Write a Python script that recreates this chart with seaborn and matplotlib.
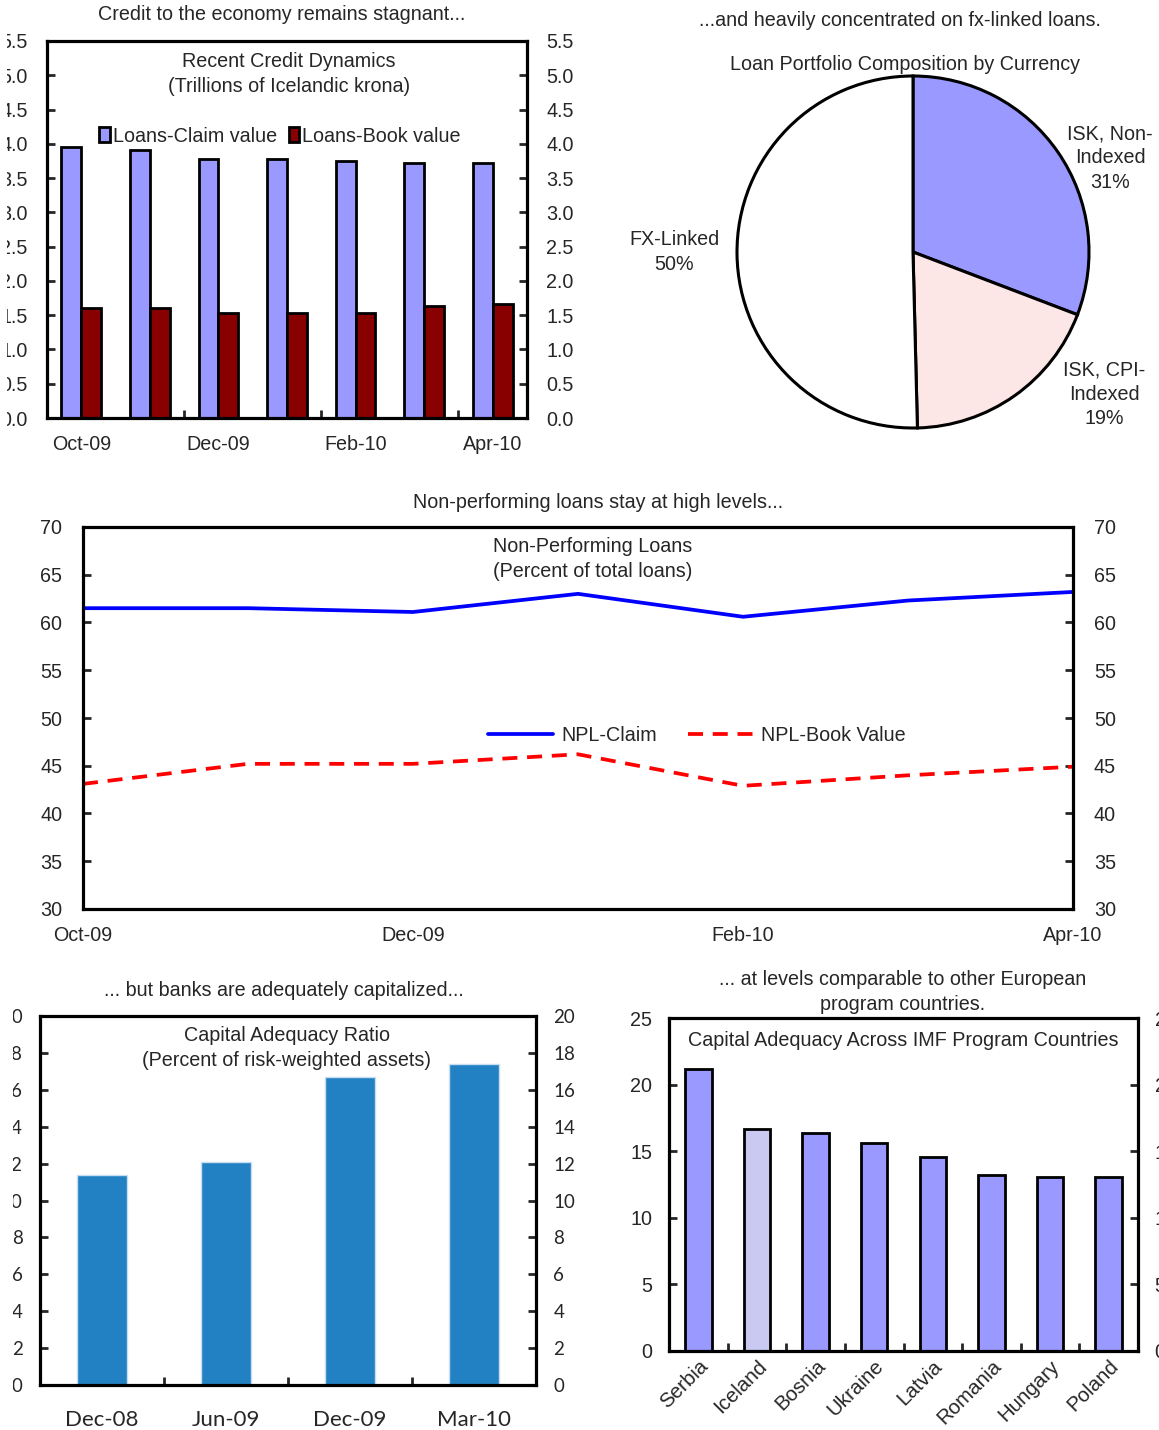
import numpy as np
import pandas as pd
import matplotlib
matplotlib.use('Agg')
import matplotlib.pyplot as plt
import seaborn as sns
from matplotlib.transforms import Bbox, TransformedBbox
from matplotlib.ticker import FormatStrFormatter

W, H = 1159, 1430

# --- data ---
credit_months = ['Oct-09', 'Nov-09', 'Dec-09', 'Jan-10', 'Feb-10', 'Mar-10', 'Apr-10']
loans_claim = [3.95, 3.91, 3.78, 3.78, 3.75, 3.72, 3.72]
loans_book = [1.61, 1.61, 1.53, 1.53, 1.53, 1.64, 1.67]
credit_ticks = ['Oct-09', 'Dec-09', 'Feb-10', 'Apr-10']

pie_names = ['ISK, Non-\nIndexed\n31%', 'ISK, CPI-\nIndexed\n19%', 'FX-Linked\n50%']
pie_shares = [30.8, 18.8, 50.4]

npl_months = ['Oct-09', 'Nov-09', 'Dec-09', 'Jan-10', 'Feb-10', 'Mar-10', 'Apr-10']
npl_claim = [61.5, 61.5, 61.1, 63.0, 60.6, 62.3, 63.2]
npl_book = [43.1, 45.2, 45.2, 46.2, 42.9, 44.0, 44.9]
npl_ticks = ['Oct-09', 'Dec-09', 'Feb-10', 'Apr-10']

car_dates = ['Dec-08', 'Jun-09', 'Dec-09', 'Mar-10']
car_values = [11.4, 12.1, 16.7, 17.4]

countries = ['Serbia', 'Iceland', 'Bosnia', 'Ukraine', 'Latvia', 'Romania', 'Hungary', 'Poland']
country_car = [21.2, 16.7, 16.4, 15.6, 14.6, 13.2, 13.1, 13.1]

CLAIM = '#9999FF'
BOOK = '#880000'
FS = 14.2
LS = 1.35

sns.set_style('white')
plt.rcParams['font.family'] = ['Liberation Sans', 'DejaVu Sans']


def add_ax(fig, l, t, r, b):
    return fig.add_axes([l / W, 1 - b / H, (r - l) / W, (b - t) / H])


def frame(ax, lw=2.3):
    for s in ax.spines.values():
        s.set_visible(True)
        s.set_linewidth(lw)
        s.set_color('black')


def ftext(fig, x, y, s, **kw):
    fig.text(x / W, 1 - y / H, s, ha='center', va='center', fontsize=FS, **kw)


def clip_left_labels(fig, ax, xpx):
    # the reference picture is cropped on its left edge
    box = TransformedBbox(Bbox.from_extents(xpx / W, 0, 1, 1), fig.transFigure)
    for t in ax.yaxis.get_major_ticks():
        t.label1.set_clip_on(True)
        t.label1.set_clip_box(box)


fig = plt.figure(figsize=(W / 100, H / 100), dpi=100)

# ---------- panel 1: credit dynamics ----------
ax1 = add_ax(fig, 47, 41, 527, 418)
df1 = pd.DataFrame({
    'month': credit_months * 2,
    'series': ['Loans-Claim value'] * len(credit_months) + ['Loans-Book value'] * len(credit_months),
    'value': loans_claim + loans_book,
})
sns.barplot(data=df1, x='month', y='value', hue='series',
            palette={'Loans-Claim value': CLAIM, 'Loans-Book value': BOOK},
            width=0.58, edgecolor='black', linewidth=2, saturation=1, ax=ax1)
ax1.set_xlim(-0.5, len(credit_months) - 0.5)
ax1.set_ylim(0, 5.5)
ax1.set_yticks(np.arange(0, 5.51, 0.5))
ax1.yaxis.set_major_formatter(FormatStrFormatter('%.1f'))
ax1.set_xticks([0, 2, 4, 6], credit_ticks)
ax1.set_xticks([1.5, 3.5, 5.5], minor=True)
ax1.tick_params(axis='x', which='major', length=0, pad=12, labelsize=FS)
ax1.tick_params(axis='x', which='minor', direction='in', length=6, width=2, bottom=True)
ax1.tick_params(axis='y', direction='in', left=True, right=True, labelleft=True,
                labelright=True, length=6, width=2, pad=14, labelsize=FS)
ax1.set_xlabel('')
ax1.set_ylabel('')
frame(ax1)
clip_left_labels(fig, ax1, 7)
h, l = ax1.get_legend_handles_labels()
ax1.legend(h, l, loc='center', bbox_to_anchor=(0.485, 0.748), ncol=2, frameon=False,
           fontsize=FS, handlelength=0.55, handleheight=0.75, handletextpad=0.15,
           columnspacing=0.6)
ftext(fig, 282, 15, 'Credit to the economy remains stagnant...')
ftext(fig, 289, 74, 'Recent Credit Dynamics\n(Trillions of Icelandic krona)', linespacing=LS)

# ---------- panel 2: pie ----------
R = 176
ax2 = fig.add_axes([(913 - 1.4 * R) / W, 1 - (252 + 1.4 * R) / H, 2.8 * R / W, 2.8 * R / H])
ax2.pie(pie_shares, colors=[CLAIM, '#FDE6E6', 'white'], startangle=90, counterclock=False,
        wedgeprops=dict(edgecolor='black', linewidth=2.2))
ax2.set_xlim(-1.4, 1.4)
ax2.set_ylim(-1.4, 1.4)
ax2.set_aspect('equal')
ax2.axis('off')
ax2.patch.set_visible(False)
for name, (px, py) in zip(pie_names, [(1.12, 0.535), (1.085, -0.81), (-1.355, 0.0)]):
    ax2.text(px, py, name, ha='center', va='center', fontsize=FS, linespacing=LS)
ftext(fig, 900, 21, '...and heavily concentrated on fx-linked loans.')
ftext(fig, 905, 64, 'Loan Portfolio Composition by Currency')

# ---------- panel 3: NPL ----------
ax3 = add_ax(fig, 83, 527, 1073, 909)
npl_x = np.arange(len(npl_months))
sns.lineplot(x=npl_x, y=npl_claim, color='#0000FF', linewidth=2.7, label='NPL-Claim', ax=ax3)
sns.lineplot(x=npl_x, y=npl_book, color='#FF0000', linewidth=2.7, linestyle=(0, (4, 2.6)),
             label='NPL-Book Value', ax=ax3)
ax3.set_xlim(0, len(npl_months) - 1)
ax3.set_ylim(30, 70)
ax3.set_yticks(np.arange(30, 71, 5))
ax3.set_xticks([0, 2, 4, 6], npl_ticks)
ax3.tick_params(axis='x', direction='in', length=6, width=2, pad=12, labelsize=FS)
ax3.tick_params(axis='y', direction='in', left=True, right=True, labelleft=True,
                labelright=True, length=6, width=2, pad=15, labelsize=FS)
frame(ax3)
ax3.legend(loc='center', bbox_to_anchor=(0.62, 0.455), ncol=2, frameon=False, fontsize=FS,
           handlelength=3.3, handletextpad=0.4, columnspacing=1.6)
ftext(fig, 598, 503, 'Non-performing loans stay at high levels...')
ftext(fig, 593, 559, 'Non-Performing Loans\n(Percent of total loans)', linespacing=LS)

# ---------- panel 4: capital adequacy ratio ----------
ax4 = add_ax(fig, 40, 1016, 536, 1385)
sns.barplot(x=car_dates, y=car_values, color='#2281C2', saturation=1, width=0.4,
            edgecolor='#C8DDF0', linewidth=1, ax=ax4)
ax4.set_xlim(-0.5, len(car_dates) - 0.5)
ax4.set_ylim(0, 20)
ax4.set_yticks(np.arange(0, 21, 2))
ax4.set_xticks([0.5, 1.5, 2.5], minor=True)
ax4.tick_params(axis='x', which='major', length=0, pad=18)
ax4.tick_params(axis='x', which='minor', direction='in', length=6, width=2, bottom=True)
ax4.tick_params(axis='y', direction='in', left=True, right=True, labelleft=True,
                labelright=True, length=6, width=2, pad=12.5)
for lab in ax4.get_xticklabels():
    lab.set_fontfamily(['Lato', 'DejaVu Sans'])
    lab.set_fontsize(16)
for t in ax4.yaxis.get_major_ticks():
    for lab in (t.label1, t.label2):
        lab.set_fontfamily(['Lato', 'DejaVu Sans'])
        lab.set_fontsize(13.5)
clip_left_labels(fig, ax4, 13)
frame(ax4)
ftext(fig, 284, 990, '... but banks are adequately capitalized...')
ftext(fig, 287, 1048, 'Capital Adequacy Ratio\n(Percent of risk-weighted assets)', linespacing=LS)

# ---------- panel 5: across program countries ----------
ax5 = add_ax(fig, 669, 1018, 1138, 1351)
bar_colors = ['#C9C9F2' if c == 'Iceland' else CLAIM for c in countries]
sns.barplot(x=countries, y=country_car, hue=countries, palette=bar_colors, legend=False,
            saturation=1, width=0.45, edgecolor='black', linewidth=2, ax=ax5)
ax5.set_xlim(-0.5, len(countries) - 0.5)
ax5.set_ylim(0, 25)
ax5.set_yticks(np.arange(0, 26, 5))
ax5.set_xticks(np.arange(0.5, len(countries) - 1, 1.0), minor=True)
ax5.tick_params(axis='x', which='major', length=0, pad=4, labelsize=14.8)
ax5.tick_params(axis='x', which='minor', direction='in', length=6, width=2, bottom=True)
ax5.tick_params(axis='y', direction='in', left=True, right=True, labelleft=True,
                labelright=True, length=6, width=2, pad=12, labelsize=FS)
for lab in ax5.get_xticklabels():
    lab.set_rotation(45)
    lab.set_ha('right')
    lab.set_rotation_mode('anchor')
frame(ax5)
ftext(fig, 903, 992, '... at levels comparable to other European\nprogram countries.', linespacing=LS)
ftext(fig, 903, 1040, 'Capital Adequacy Across IMF Program Countries')

fig.savefig('out.png', dpi=100)
